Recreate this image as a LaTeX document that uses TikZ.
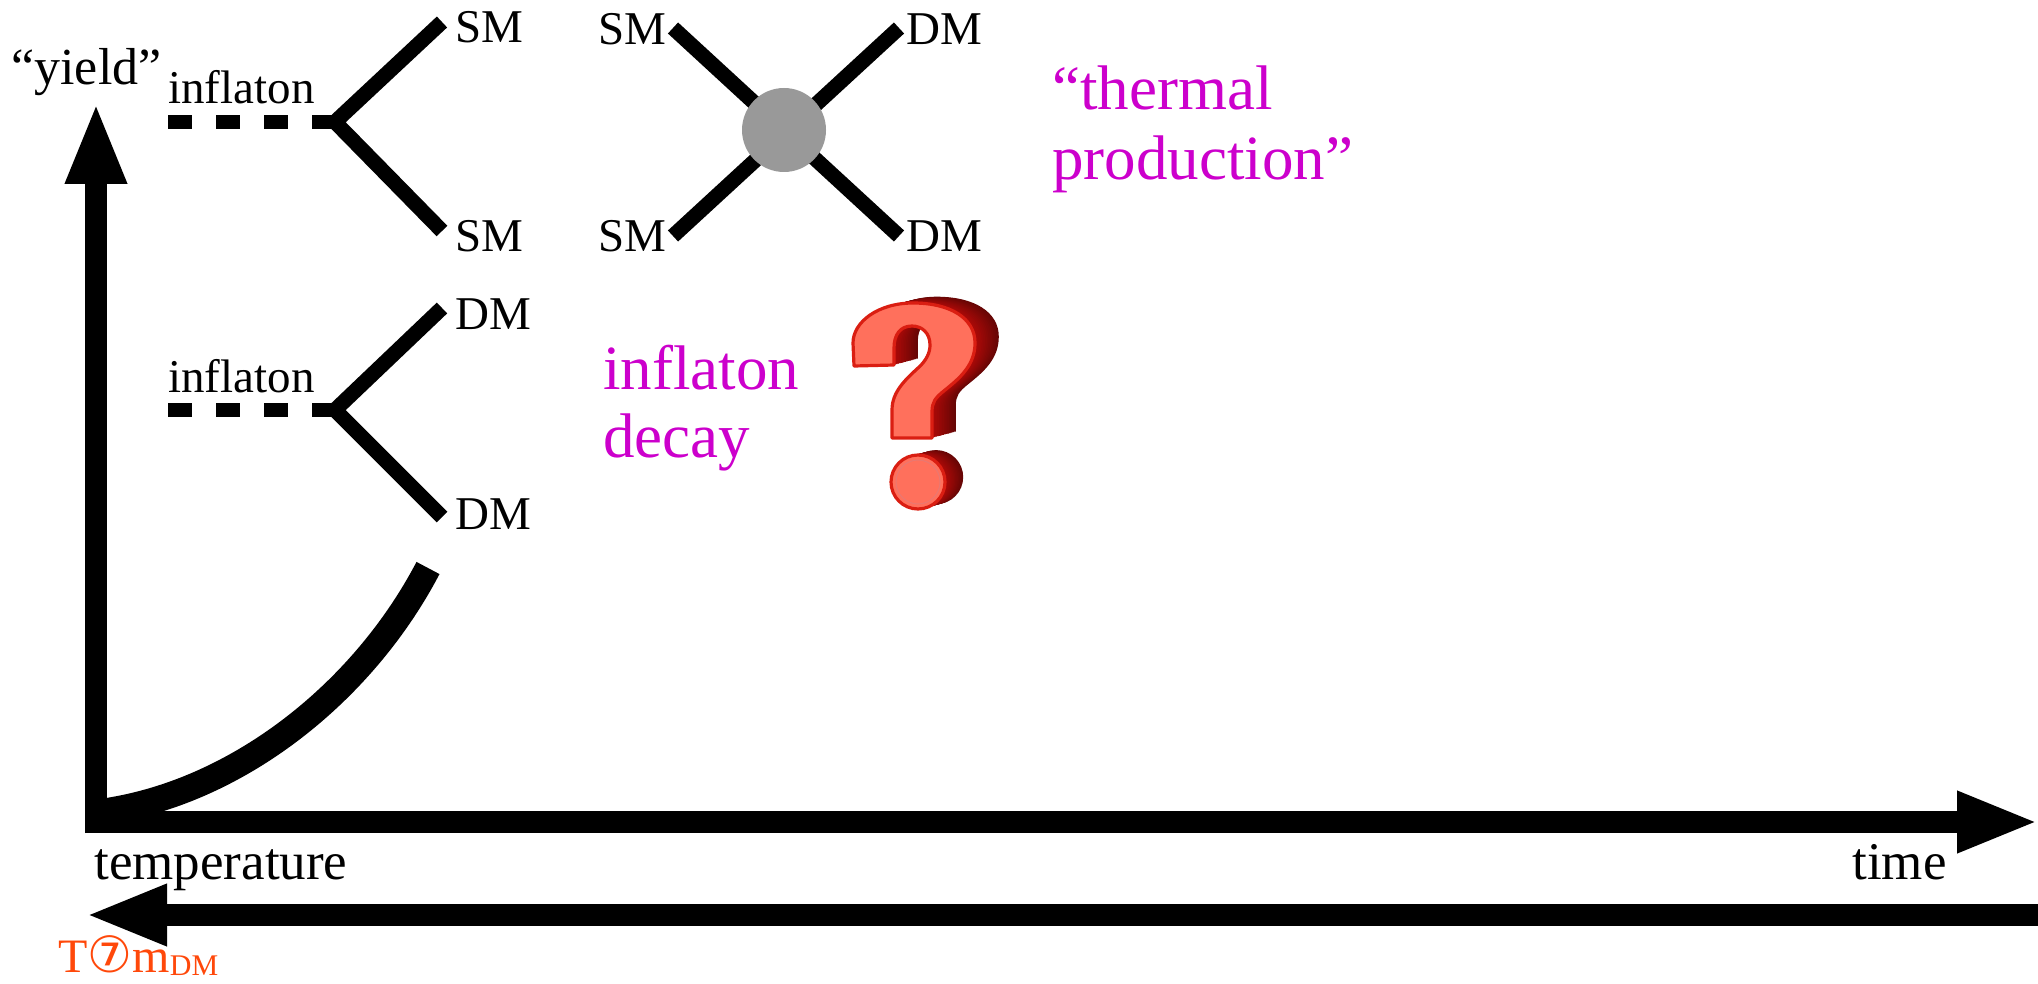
\documentclass[tikz,border=0pt]{standalone}
\usepackage{fontspec}
\setmainfont{Liberation Serif}
\newfontfamily\symfont{DejaVu Sans}
\usetikzlibrary{arrows.meta}

\definecolor{magtext}{RGB}{204,0,204}
\definecolor{tempcol}{RGB}{255,72,10}
\definecolor{blobgray}{RGB}{153,153,153}
\definecolor{qfront}{RGB}{255,112,92}
\definecolor{qedge}{RGB}{218,30,18}
\definecolor{qside}{RGB}{178,10,8}

% outline of the hook of the question mark (pixel units)
\newcommand\qhookpath{(854,366) -- (853,343)
  .. controls (853,322) and (878,303) .. (913,303)
  .. controls (950,303) and (975,318) .. (975,343)
  .. controls (975,365) and (960,378) .. (945,390)
  .. controls (935,398) and (932,402) .. (932,412)
  -- (932,438) -- (892,438) -- (892,410)
  .. controls (892,392) and (905,380) .. (918,368)
  .. controls (927,360) and (930,352) .. (930,345)
  .. controls (930,333) and (922,326) .. (912,326)
  .. controls (900,326) and (894,335) .. (894,348)
  -- (894,365) -- cycle}

\begin{document}
\begin{tikzpicture}[x=0.5pt,y=-0.5pt,
  axis/.style={line width=11pt, -{Triangle[length=41pt,width=28pt]}},
  fline/.style={line width=7.5pt, line join=miter},
  scalar/.style={line width=7pt, dash pattern=on 12pt off 12pt},
  lbl/.style={anchor=base west, inner sep=0pt, font=\fontsize{23.5}{28}\selectfont},
  axlbl/.style={anchor=base west, inner sep=0pt, font=\fontsize{26.5}{32}\selectfont},
  pinklbl/.style={anchor=base west, inner sep=0pt, text=magtext, font=\fontsize{31.5}{36}\selectfont},
]
\useasboundingbox (0,0) rectangle (2038,984);

% ---- axes ----
\coordinate (origin) at (96,833);
\coordinate (ytip) at (96,102);
\coordinate (xstart) at (85,822);
\coordinate (xtip) at (2039,822);
\coordinate (tright) at (2040,915);
\coordinate (ttip) at (85,915);
\draw[axis] (origin) -- (ytip);
\draw[axis] (xstart) -- (xtip);
\draw[axis] (tright) -- (ttip);

% yield curve
\coordinate (cstart) at (100,812);
\coordinate (cend) at (428,568);
\draw[line width=13pt] (cstart) .. controls (235,794) and (362,694) .. (cend);

% ---- axis labels ----
\node[lbl, font=\fontsize{26}{30}\selectfont] (yield) at (11,85) {“yield”};
\node[axlbl] (temp) at (94,879) {temperature};
\node[axlbl] (time) at (1852,879) {time};
\node[anchor=base west, inner sep=0pt, text=tempcol, font=\fontsize{24}{28}\selectfont]
  (tmdm) at (58,972) {T{\symfont\fontsize{25}{26}\selectfont ⑦}m\raisebox{-1.5pt}{\fontsize{15}{18}\selectfont DM}};

% ---- inflaton -> SM SM ----
\node[lbl] (inf1) at (168,104) {inflaton};
\coordinate (phi1) at (168,122);
\coordinate (v1) at (335,122);
\coordinate (e1a) at (442,22);
\coordinate (e1b) at (442,231);
\draw[scalar] (phi1) -- (v1);
\draw[fline] (e1a) -- (v1) -- (e1b);
\node[lbl] (sm1a) at (455,43) {SM};
\node[lbl] (sm1b) at (455,251) {SM};

% ---- inflaton -> DM DM ----
\node[lbl] (inf2) at (168,392) {inflaton};
\coordinate (phi2) at (168,410);
\coordinate (v2) at (335,410);
\coordinate (e2a) at (442,308);
\coordinate (e2b) at (442,517);
\draw[scalar] (phi2) -- (v2);
\draw[fline] (e2a) -- (v2) -- (e2b);
\node[lbl] (dm2a) at (455,329) {DM};
\node[lbl] (dm2b) at (455,529) {DM};

% ---- SM SM -> DM DM ----
\coordinate (csm1) at (673,28);
\coordinate (csm2) at (673,236);
\coordinate (cdm1) at (899,28);
\coordinate (cdm2) at (899,236);
\coordinate (cx) at (786,132);
\draw[fline] (csm1) -- (cx) -- (cdm2);
\draw[fline] (csm2) -- (cx) -- (cdm1);
\node[circle, fill=blobgray, minimum size=42pt, inner sep=0pt] (blob) at (784,130) {};
\node[lbl] (smc1) at (598,45) {SM};
\node[lbl] (smc2) at (598,251) {SM};
\node[lbl] (dmc1) at (906,45) {DM};
\node[lbl] (dmc2) at (906,251) {DM};

% ---- magenta captions ----
\node[pinklbl] (therm1) at (1052,110) {“thermal};
\node[pinklbl] (therm2) at (1052,180) {production”};
\node[pinklbl] (idec1) at (603,389) {inflaton};
\node[pinklbl] (idec2) at (603,457) {decay};

% ---- 3D question mark ----
\foreach \k in {14,13,...,1}{
  \pgfmathsetmacro\shade{100-\k*3}
  \fill[qside!\shade!black, shift={(\k*1.7,-\k*0.45)}] \qhookpath;
}
\fill[qfront, draw=qedge, line width=1.6pt, line join=round] \qhookpath;
\foreach \k in {14,13,...,1}{
  \pgfmathsetmacro\shade{100-\k*3}
  \fill[qside!\shade!black] (918+\k*1.3,482-\k*0.35) circle[radius=27];
}
\fill[qfront, draw=qedge, line width=1.6pt] (918,482) circle[radius=27];
\draw[qedge!60!white, line width=0.5pt] (918,482) circle[radius=22];
\end{tikzpicture}
\end{document}
